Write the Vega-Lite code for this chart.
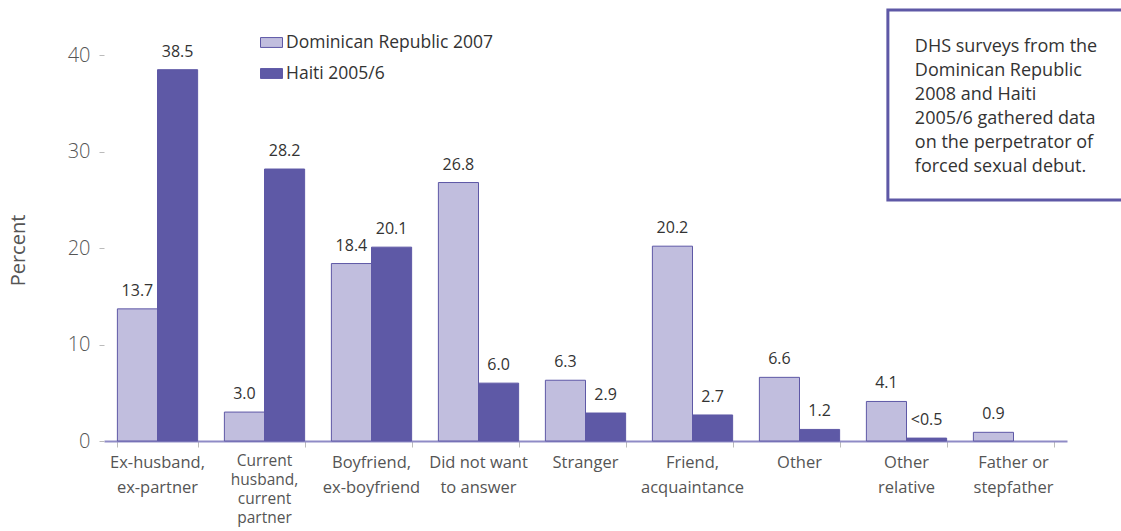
{
  "$schema": "https://vega.github.io/schema/vega-lite/v6.json",
  "width": 963,
  "height": 434,
  "autosize": "none",
  "padding": {"left": 104, "top": 7, "right": 54, "bottom": 90},
  "background": "white",
  "config": {"view": {"stroke": null}, "font": "Open Sans"},
  "datasets": {
    "bars": [
      {"cat": "Ex-husband,|ex-partner", "series": "Dominican Republic 2007", "value": 13.7, "label": "13.7"},
      {"cat": "Ex-husband,|ex-partner", "series": "Haiti 2005/6", "value": 38.5, "label": "38.5"},
      {"cat": "Current|husband,|current|partner", "series": "Dominican Republic 2007", "value": 3.0, "label": "3.0"},
      {"cat": "Current|husband,|current|partner", "series": "Haiti 2005/6", "value": 28.2, "label": "28.2"},
      {"cat": "Boyfriend,|ex-boyfriend", "series": "Dominican Republic 2007", "value": 18.4, "label": "18.4"},
      {"cat": "Boyfriend,|ex-boyfriend", "series": "Haiti 2005/6", "value": 20.1, "label": "20.1"},
      {"cat": "Did not want|to answer", "series": "Dominican Republic 2007", "value": 26.8, "label": "26.8"},
      {"cat": "Did not want|to answer", "series": "Haiti 2005/6", "value": 6.0, "label": "6.0"},
      {"cat": "Stranger", "series": "Dominican Republic 2007", "value": 6.3, "label": "6.3"},
      {"cat": "Stranger", "series": "Haiti 2005/6", "value": 2.9, "label": "2.9"},
      {"cat": "Friend,|acquaintance", "series": "Dominican Republic 2007", "value": 20.2, "label": "20.2"},
      {"cat": "Friend,|acquaintance", "series": "Haiti 2005/6", "value": 2.7, "label": "2.7"},
      {"cat": "Other", "series": "Dominican Republic 2007", "value": 6.6, "label": "6.6"},
      {"cat": "Other", "series": "Haiti 2005/6", "value": 1.2, "label": "1.2"},
      {"cat": "Other|relative", "series": "Dominican Republic 2007", "value": 4.1, "label": "4.1"},
      {"cat": "Other|relative", "series": "Haiti 2005/6", "value": 0.3, "label": "<0.5"},
      {"cat": "Father or|stepfather", "series": "Dominican Republic 2007", "value": 0.9, "label": "0.9"}
    ],
    "note": [
      {"x1": 0.814, "x2": 1.06, "y1": 44.7, "y2": 25.0, "tx": 0.842, "ty": 40.85,
       "text": "DHS surveys from the|Dominican Republic|2008 and Haiti|2005/6 gathered data|on the perpetrator of|forced sexual debut."}
    ]
  },
  "layer": [
    {
      "data": {"name": "bars"},
      "encoding": {
        "x": {
          "field": "cat", "type": "nominal", "sort": null,
          "scale": {"paddingInner": 0.25, "paddingOuter": 0.125},
          "axis": {
            "title": null, "labels": false, "domainColor": "#8f8bc6", "domainWidth": 2,
            "ticks": true, "tickBand": "extent", "tickColor": "#bbbbbb", "tickSize": 6
          }
        },
        "y": {
          "field": "value", "type": "quantitative",
          "scale": {"domain": [0, 45], "nice": false},
          "axis": {
            "values": [0, 10, 20, 30, 40], "domain": false, "grid": false,
            "tickSize": 5, "tickColor": "#bbbbbb", "labelFontSize": 20, "labelFontWeight": 300,
            "labelColor": "#555555", "labelPadding": 9,
            "title": "Percent", "titleFontSize": 20, "titleFontWeight": "normal", "titleColor": "#555555",
            "titleX": -86, "titleY": 243, "titleAlign": "center", "titleBaseline": "middle", "titleAngle": -90
          }
        }
      },
      "layer": [
        {
          "mark": {"type": "bar", "stroke": "#5e58a6", "strokeWidth": 1},
          "encoding": {
            "xOffset": {"field": "series", "type": "nominal", "sort": null, "scale": {"paddingInner": 0, "paddingOuter": 0}},
            "color": {
              "field": "series", "type": "nominal",
              "scale": {"domain": ["Dominican Republic 2007", "Haiti 2005/6"], "range": ["#c1bede", "#5e59a6"]},
              "legend": {
                "title": null, "orient": "none", "legendX": 156, "legendY": 24,
                "symbolType": "M-1,-0.45H1V0.45H-1Z", "symbolSize": 484,
                "symbolStrokeColor": "#5e58a6", "symbolStrokeWidth": 1,
                "labelFontSize": 17.5, "labelColor": "#333333", "labelOffset": 3, "rowPadding": 11,
                "labelLimit": 0
              }
            }
          }
        },
        {
          "mark": {"type": "text", "baseline": "bottom", "dy": -10, "fontSize": 16, "color": "#333333"},
          "encoding": {
            "xOffset": {"field": "series", "type": "nominal", "sort": null},
            "text": {"field": "label", "type": "nominal"}
          }
        },
        {
          "transform": [{"filter": "datum.series === 'Dominican Republic 2007' && indexof(datum.cat, 'Current') !== 0"}],
          "mark": {"type": "text", "baseline": "top", "dy": 14, "fontSize": 16.5, "lineBreak": "|", "lineHeight": 25, "color": "#555555"},
          "encoding": {
            "y": {"datum": 0},
            "text": {"field": "cat", "type": "nominal"}
          }
        },
        {
          "transform": [{"filter": "datum.series === 'Dominican Republic 2007' && indexof(datum.cat, 'Current') === 0"}],
          "mark": {"type": "text", "baseline": "top", "dy": 13, "fontSize": 15.5, "lineBreak": "|", "lineHeight": 19, "color": "#555555"},
          "encoding": {
            "y": {"datum": 0},
            "text": {"field": "cat", "type": "nominal"}
          }
        }
      ]
    },
    {
      "data": {"name": "note"},
      "layer": [
        {
          "mark": {"type": "rect", "fill": "transparent", "stroke": "#5e58a6", "strokeWidth": 3, "clip": false},
          "encoding": {
            "x": {"field": "x1", "type": "quantitative", "scale": {"domain": [0, 1]}, "axis": null},
            "x2": {"field": "x2"},
            "y": {"field": "y1", "type": "quantitative", "scale": {"domain": [0, 45]}, "axis": null},
            "y2": {"field": "y2"}
          }
        },
        {
          "mark": {"type": "text", "align": "left", "baseline": "middle", "fontSize": 18, "lineHeight": 24, "lineBreak": "|", "color": "#333333"},
          "encoding": {
            "x": {"field": "tx", "type": "quantitative", "scale": {"domain": [0, 1]}, "axis": null},
            "y": {"field": "ty", "type": "quantitative", "scale": {"domain": [0, 45]}, "axis": null},
            "text": {"field": "text", "type": "nominal"}
          }
        }
      ]
    }
  ],
  "resolve": {"scale": {"x": "independent", "y": "independent", "color": "independent"}}
}
